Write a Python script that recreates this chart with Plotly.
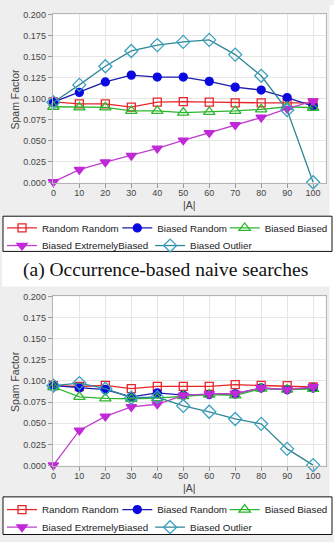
import plotly.graph_objects as go

W, H = 334, 542

# ---------------- data ----------------
a_sizes = [0, 10, 20, 30, 40, 50, 60, 70, 80, 90, 100]
series_names = ["Random Random", "Biased Random", "Biased Biased",
                "Biased ExtremelyBiased", "Biased Outlier"]

# (a) Occurrence-based naive searches
rr_a = [0.0961, 0.0938, 0.0938, 0.0899, 0.0957, 0.0965, 0.0957, 0.0950, 0.0950, 0.0950, 0.0950]
br_a = [0.0957, 0.1074, 0.1198, 0.1279, 0.1256, 0.1256, 0.1205, 0.1136, 0.1101, 0.1012, 0.0911]
bb_a = [0.0903, 0.0895, 0.0895, 0.0853, 0.0853, 0.0833, 0.0841, 0.0853, 0.0872, 0.0903, 0.0891]
beb_a = [0.0010, 0.0155, 0.0244, 0.0322, 0.0407, 0.0504, 0.0593, 0.0686, 0.0775, 0.0880, 0.0969]
bo_a = [0.0957, 0.1163, 0.1384, 0.1566, 0.1636, 0.1674, 0.1698, 0.1523, 0.1271, 0.0864, 0.0005]

# (b) second panel
rr_b = [0.0944, 0.0935, 0.0948, 0.0909, 0.0936, 0.0936, 0.0936, 0.0956, 0.0948, 0.0944, 0.0929]
br_b = [0.0944, 0.0917, 0.0898, 0.0813, 0.0859, 0.0832, 0.0840, 0.0848, 0.0917, 0.0898, 0.0917]
bb_b = [0.0929, 0.0813, 0.0794, 0.0790, 0.0798, 0.0821, 0.0840, 0.0829, 0.0909, 0.0898, 0.0906]
beb_b = [0.0005, 0.0416, 0.0582, 0.0694, 0.0725, 0.0830, 0.0848, 0.0852, 0.0917, 0.0898, 0.0929]
bo_b = [0.0944, 0.0975, 0.0909, 0.0802, 0.0809, 0.0705, 0.0636, 0.0551, 0.0493, 0.0197, 0.0005]

y_ticks = [0.0, 0.025, 0.05, 0.075, 0.1, 0.125, 0.15, 0.175, 0.2]
y_tick_text = ["0.000", "0.025", "0.050", "0.075", "0.100", "0.125", "0.150", "0.175", "0.200"]
x_ticks = a_sizes
caption_a = "(a) Occurrence-based naive searches"
x_title = "|A|"
y_title = "Spam Factor"

# ---------------- styles ----------------
styles = [
    dict(line="#e8262a", marker="#e8262a", symbol="square-open", size=8),
    dict(line="#1c1ca8", marker="#0a0ae0", symbol="circle", size=8),
    dict(line="#2db52d", marker="#2db52d", symbol="triangle-up-open", size=10),
    dict(line="#c040cc", marker="#c028d8", symbol="triangle-down", size=9),
    dict(line="#2f8796", marker="#3aa0c0", symbol="diamond-open", size=10),
]

def px_x(x):
    return x / W

def px_y(y):
    return 1 - y / H

fig = go.Figure()

panels = [
    dict(data=[rr_a, br_a, bb_a, beb_a, bo_a], xa="x", ya="y",
         legends=["legend2", "legend3", "legend4", "legend5", "legend6"]),
    dict(data=[rr_b, br_b, bb_b, beb_b, bo_b], xa="x2", ya="y2",
         legends=["legend7", "legend8", "legend9", "legend10", "legend11"]),
]

for p in panels:
    for name, vals, st, lg in zip(series_names, p["data"], styles, p["legends"]):
        fig.add_trace(go.Scatter(
            x=a_sizes, y=vals, name=name, mode="lines+markers",
            xaxis=p["xa"], yaxis=p["ya"], legend=lg, cliponaxis=False,
            line=dict(color=st["line"], width=1.3),
            marker=dict(symbol=st["symbol"], size=st["size"], color=st["marker"],
                        line=dict(color=st["marker"], width=1.3)),
        ))

axis_font = dict(family="Liberation Sans, Arial, sans-serif", size=9, color="#444444")
x_dom = [px_x(51), px_x(325.7)]
common_x = dict(range=[-0.27, 104.86], domain=x_dom, tickvals=x_ticks,
                ticks="outside", ticklen=4, tickcolor="#999999", tickfont=axis_font,
                ticklabelstandoff=-2,
                showgrid=True, gridcolor="#e6e6e6", gridwidth=1, zeroline=False,
                showline=True, linecolor="#b4b4b4", linewidth=1, mirror=True,
                fixedrange=True)
common_y = dict(range=[0, 0.2], tickvals=y_ticks, ticktext=y_tick_text,
                ticks="outside", ticklen=4, tickcolor="#999999", tickfont=axis_font,
                showgrid=True, gridcolor="#e6e6e6", gridwidth=1, zeroline=False,
                showline=True, linecolor="#b4b4b4", linewidth=1, mirror=True,
                fixedrange=True)

fig.update_layout(
    width=W, height=H, margin=dict(l=0, r=0, t=0, b=0),
    paper_bgcolor="#eeeeee", plot_bgcolor="#ffffff",
    xaxis=dict(common_x, anchor="y"),
    yaxis=dict(common_y, anchor="x", domain=[px_y(181.7), px_y(9.7)]),
    xaxis2=dict(common_x, anchor="y2"),
    yaxis2=dict(common_y, anchor="x2", domain=[px_y(471), px_y(298)]),
)

# legends: one entry each, laid out in two rows per panel
leg_font = dict(family="Liberation Sans, Arial, sans-serif", size=9.8, color="#222222")
rows_top = [228, 246]
rows_bot = [516, 534]
entry_x = [0, 116, 224, 0, 149]   # legend box left (px)
entry_row = [0, 0, 0, 1, 1]
for i, lg in enumerate(panels[0]["legends"] + panels[1]["legends"]):
    k = i % 5
    rows = rows_top if i < 5 else rows_bot
    fig.update_layout({lg: dict(
        x=px_x(entry_x[k]), y=px_y(rows[entry_row[k]]), xanchor="left", yanchor="middle",
        orientation="h", bgcolor="rgba(0,0,0,0)", borderwidth=0, font=leg_font,
        itemwidth=30, itemclick=False, itemdoubleclick=False)})

shapes = [
    # white caption band and right strip
    dict(type="rect", xref="paper", yref="paper", x0=0, x1=1, y0=px_y(288), y1=px_y(252.5),
         fillcolor="#ffffff", line=dict(width=0), layer="below"),
    dict(type="rect", xref="paper", yref="paper", x0=px_x(329.5), x1=1, y0=0, y1=1,
         fillcolor="#ffffff", line=dict(width=0), layer="below"),
    # legend boxes
    dict(type="rect", xref="paper", yref="paper", x0=px_x(1), x1=px_x(332), y0=px_y(252), y1=px_y(216),
         fillcolor="#ffffff", line=dict(color="#111111", width=1), layer="below"),
    dict(type="rect", xref="paper", yref="paper", x0=px_x(1), x1=px_x(332), y0=px_y(541.5), y1=px_y(503),
         fillcolor="#ffffff", line=dict(color="#111111", width=1), layer="below"),
]
fig.update_layout(shapes=shapes)

title_font = dict(family="Liberation Sans, Arial, sans-serif", size=10.5, color="#444444")
annotations = []
for yc, yx in [((9.7 + 181.7) / 2, 205), ((298 + 471) / 2, 494)]:
    annotations.append(dict(text=y_title, xref="paper", yref="paper", x=px_x(13), y=px_y(yc),
                            textangle=-90, showarrow=False, font=title_font,
                            xanchor="center", yanchor="middle"))
    annotations.append(dict(text=x_title, xref="paper", yref="paper", x=px_x(188.3), y=px_y(yx),
                            showarrow=False, font=title_font, xanchor="center", yanchor="middle"))
annotations.append(dict(text=caption_a, xref="paper", yref="paper", x=px_x(164), y=px_y(271.5),
                        showarrow=False, xanchor="center", yanchor="middle",
                        font=dict(family="Liberation Serif, Times New Roman, serif", size=19.5,
                                  color="#111111")))
fig.update_layout(annotations=annotations)

fig.write_html("out.html")
